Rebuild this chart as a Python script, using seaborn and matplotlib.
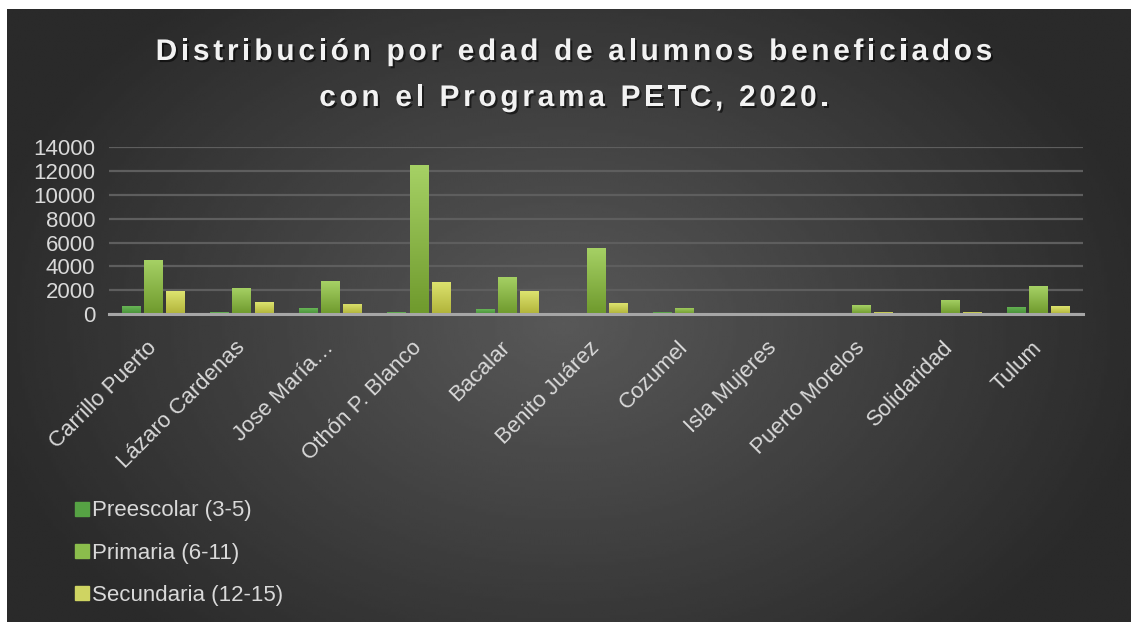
import numpy as np
import pandas as pd
import matplotlib
matplotlib.use("Agg")
import matplotlib.pyplot as plt
import matplotlib.patheffects as pe
from matplotlib.colors import LinearSegmentedColormap
from matplotlib.lines import Line2D
import seaborn as sns

# Data
municipios = ["Carrillo Puerto", "Lázaro Cardenas", "Jose María…", "Othón P. Blanco",
              "Bacalar", "Benito Juárez", "Cozumel", "Isla Mujeres",
              "Puerto Morelos", "Solidaridad", "Tulum"]
preescolar = [670, 150, 500, 150, 400, 0, 190, 0, 0, 0, 590]
primaria = [4540, 2190, 2770, 12520, 3110, 5550, 530, 0, 750, 1180, 2350]
secundaria = [1930, 980, 840, 2700, 1900, 920, 0, 40, 170, 170, 670]
niveles = ["Preescolar (3-5)", "Primaria (6-11)", "Secundaria (12-15)"]
y_ticks = [0, 2000, 4000, 6000, 8000, 10000, 12000, 14000]
title_lines = ["Distribución por edad de alumnos beneficiados",
               "con el Programa PETC, 2020."]

# Colours (mid, top, bottom) per series
mid_colors = ["#56a244", "#8bbd4c", "#cfd462"]
top_colors = ["#68b556", "#a6d165", "#dde36f"]
bottom_colors = ["#479038", "#6f9a2d", "#b1b43a"]

text_color = "#d9d9d9"
plt.rcParams['font.family'] = ['Liberation Sans', 'DejaVu Sans']

W, H = 1131, 622
figure = plt.figure(figsize=(W / 100, H / 100), dpi=100)
figure.patch.set_facecolor("white")

# Dark radial background
bg = figure.add_axes([7 / W, 0, 1 - 7 / W, 1 - 9 / H], zorder=-10)
gx, gy = np.meshgrid(np.linspace(0, W, 400), np.linspace(0, H, 220))
d = np.sqrt(((gx - 560) / 600) ** 2 + ((gy - 320) / 430) ** 2)
shade = 88 - (88 - 42) * np.clip(d, 0, 1)
bg.imshow(shade, cmap="gray", vmin=0, vmax=255, aspect="auto",
          extent=[0, W, H, 0], interpolation="bilinear")
bg.axis("off")

# Main axes
axes = figure.add_axes([109 / W, 1 - 314 / H, 974 / W, (314 - 147.3) / H])
axes.set_facecolor("none")

df = pd.DataFrame({
    "municipio": municipios * 3,
    "nivel": [niveles[0]] * len(municipios) + [niveles[1]] * len(municipios) + [niveles[2]] * len(municipios),
    "alumnos": preescolar + primaria + secundaria,
})

sns.barplot(data=df, x="municipio", y="alumnos", hue="nivel", hue_order=niveles,
            palette=mid_colors, width=0.75, gap=0.15, ax=axes, legend=False,
            saturation=1, errorbar=None)

axes.set_ylim(0, 14000)
xlim = axes.get_xlim()

# Vertical gradient on every bar
for k, container in enumerate(axes.containers):
    cmap = LinearSegmentedColormap.from_list(f"g{k}", [bottom_colors[k], top_colors[k]])
    for bar in container:
        h = bar.get_height()
        if h <= 0:
            continue
        x0 = bar.get_x()
        w = bar.get_width()
        grad = np.linspace(1, 0, 50).reshape(-1, 1)
        im = axes.imshow(grad, cmap=cmap, aspect="auto", extent=[x0, x0 + w, 0, h],
                         zorder=bar.get_zorder() + 0.1, interpolation="bilinear")
        im.set_clip_path(bar)

axes.set_xlim(xlim)
axes.set_ylim(0, 14000)

axes.set_yticks(y_ticks)
axes.set_yticklabels([str(v) for v in y_ticks])
axes.grid(axis="y", color="#5e5e5e", linewidth=1.6)
axes.set_axisbelow(True)
for side in ["top", "right", "left"]:
    axes.spines[side].set_visible(False)
axes.spines["bottom"].set_color("#a6a6a6")
axes.spines["bottom"].set_linewidth(2.2)
axes.tick_params(axis="both", length=0, colors=text_color, labelsize=16)
axes.tick_params(axis="y", pad=10)
axes.tick_params(axis="x", pad=22)
axes.set_xlabel("")
axes.set_ylabel("")
for label in axes.get_xticklabels():
    label.set_rotation(45)
    label.set_ha("right")
    label.set_va("center")
    label.set_rotation_mode("anchor")

# Legend
handles = [Line2D([0], [0], marker="s", linestyle="none", markersize=9.5,
                  markerfacecolor=c, markeredgecolor=c) for c in mid_colors]
figure.legend(handles, niveles, loc="center left", bbox_to_anchor=(55 / W, 1 - 553 / H),
              frameon=False, fontsize=16, labelcolor=text_color, labelspacing=0.95,
              handlelength=0.6, handletextpad=0.15)

# Title with letter spacing and shadow
renderer = figure.canvas.get_renderer()
prop = matplotlib.font_manager.FontProperties(family="Liberation Sans", weight="bold", size=21.5)
def text_width(s):
    return renderer.get_text_width_height_descent(s, prop, ismath=False)[0]
spacing = 3.7
for line, baseline in zip(title_lines, [60, 106]):
    base = text_width("xx")
    advances = [text_width("x" + c + "x") - base for c in line]
    total = sum(advances) + spacing * (len(line) - 1)
    x = 574 - total / 2
    for c, adv in zip(line, advances):
        figure.text(x / W, 1 - baseline / H, c, fontproperties=prop, color="#f2f2f2",
                    ha="left", va="baseline",
                    path_effects=[pe.SimplePatchShadow(offset=(1.5, -1.5), shadow_rgbFace="black", alpha=0.55),
                                  pe.Normal()])
        x += adv + spacing

figure.savefig("out.png", dpi=100)
plt.close(figure)
